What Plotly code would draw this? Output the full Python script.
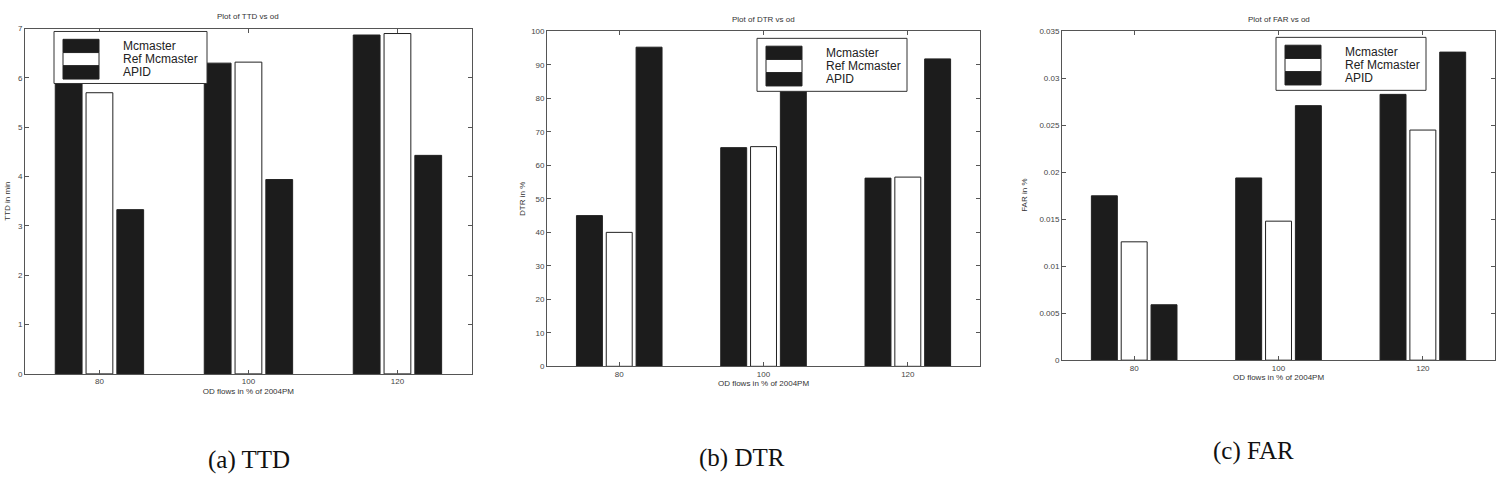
import plotly.graph_objects as go

categories = ["80", "100", "120"]
series_names = ["Mcmaster", "Ref Mcmaster", "APID"]

ttd_mcmaster = [6.0, 6.3, 6.87]
ttd_ref = [5.7, 6.32, 6.9]
ttd_apid = [3.33, 3.94, 4.43]

dtr_mcmaster = [45.0, 65.3, 56.2]
dtr_ref = [40.0, 65.6, 56.5]
dtr_apid = [95.3, 89.0, 91.8]

far_mcmaster = [0.0175, 0.0194, 0.0283]
far_ref = [0.0126, 0.0148, 0.0245]
far_apid = [0.0059, 0.0271, 0.0328]

panel_titles = ["Plot of TTD vs od", "Plot of DTR vs od", "Plot of FAR vs od"]
y_titles = ["TTD in min", "DTR in %", "FAR in %"]
x_title = "OD flows in % of 2004PM"
captions = ["(a) TTD", "(b) DTR", "(c) FAR"]

W, H = 1503, 482
DARK = "#1c1c1c"
fills = [DARK, "white", DARK]
GRID = "#555555"
SANS = "Liberation Sans, Arial"

fig = go.Figure()

panels = [
    (ttd_mcmaster, ttd_ref, ttd_apid),
    (dtr_mcmaster, dtr_ref, dtr_apid),
    (far_mcmaster, far_ref, far_apid),
]
xdomains = [[0.0166, 0.314], [0.364, 0.652], [0.7066, 0.9947]]
ydomains = [[0.218, 0.948], [0.234, 0.942], [0.247, 0.942]]
yranges = [[0, 7], [0, 100], [0, 0.035]]
ydticks = [1, 10, 0.005]
# legend boxes in pixels: (left, top, right, bottom)
legend_boxes = [(54, 28, 207, 81), (757, 35, 907, 89), (1276, 34, 1426, 88)]
caption_pos = [(0.166, 0.035), (0.494, 0.041), (0.834, 0.056)]
ytitle_x = [0.005, 0.348, 0.682]


def px(x):
    return x / W


def py(y):
    return 1 - y / H


for i, vals in enumerate(panels):
    suffix = "" if i == 0 else str(i + 1)
    xa = "x" + suffix
    ya = "y" + suffix
    for name, v, col in zip(series_names, vals, fills):
        fig.add_trace(go.Bar(
            x=[1, 2, 3], y=v, name=name,
            marker=dict(color=col, line=dict(color="#222222", width=1)),
            xaxis=xa, yaxis=ya, showlegend=False,
        ))
    axis_common = dict(
        showline=True, linecolor=GRID, linewidth=1, mirror="ticks",
        ticks="inside", ticklen=4, tickcolor=GRID,
        showgrid=False, zeroline=False,
        tickfont=dict(family=SANS, size=8, color="#444444"),
    )
    fig.update_layout(**{
        "xaxis" + suffix: dict(
            domain=xdomains[i], anchor=ya, range=[0.5, 3.5],
            tickmode="array", tickvals=[1, 2, 3], ticktext=categories,
            title=dict(text=x_title, standoff=2,
                       font=dict(family=SANS, size=8, color="#333333")),
            **axis_common),
        "yaxis" + suffix: dict(
            domain=ydomains[i], anchor=xa, range=yranges[i],
            dtick=ydticks[i], tick0=0,
            **axis_common),
    })

    # legend box drawn in layout
    L, T, R, B = legend_boxes[i]
    fig.add_shape(type="rect", xref="paper", yref="paper",
                  x0=px(L), x1=px(R), y0=py(B), y1=py(T),
                  line=dict(color="#333333", width=1), fillcolor="white", layer="above")
    sw_l, sw_r = L + 9, L + 45
    sw_top = T + 8
    row_h = 13.5
    for k, (name, col) in enumerate(zip(series_names, fills)):
        y0 = sw_top + k * row_h
        fig.add_shape(type="rect", xref="paper", yref="paper",
                      x0=px(sw_l), x1=px(sw_r), y0=py(y0 + row_h), y1=py(y0),
                      line=dict(color="#222222", width=1), fillcolor=col, layer="above")
        fig.add_annotation(text=name, xref="paper", yref="paper",
                           x=px(L + 67), y=py(y0 + row_h / 2),
                           xanchor="left", yanchor="middle", showarrow=False,
                           font=dict(family=SANS, size=12, color="#222222"))

    x0, x1 = xdomains[i]
    fig.add_annotation(text=panel_titles[i], xref="paper", yref="paper",
                       x=(x0 + x1) / 2, y=ydomains[i][1] + 0.012,
                       xanchor="center", yanchor="bottom", showarrow=False,
                       font=dict(family=SANS, size=8, color="#333333"))
    fig.add_annotation(text=y_titles[i], xref="paper", yref="paper",
                       x=ytitle_x[i], y=(ydomains[i][0] + ydomains[i][1]) / 2,
                       textangle=-90, xanchor="center", yanchor="middle", showarrow=False,
                       font=dict(family=SANS, size=8, color="#333333"))
    fig.add_annotation(text=captions[i], xref="paper", yref="paper",
                       x=caption_pos[i][0], y=caption_pos[i][1],
                       xanchor="center", yanchor="middle", showarrow=False,
                       font=dict(family="Liberation Serif, Times New Roman", size=25, color="#111111"))

fig.update_layout(
    width=W, height=H,
    margin=dict(l=0, r=0, t=0, b=0),
    paper_bgcolor="white", plot_bgcolor="white",
    barmode="group", bargap=0.38, bargroupgap=0.13,
    showlegend=False,
)

fig.write_html("out.html")
